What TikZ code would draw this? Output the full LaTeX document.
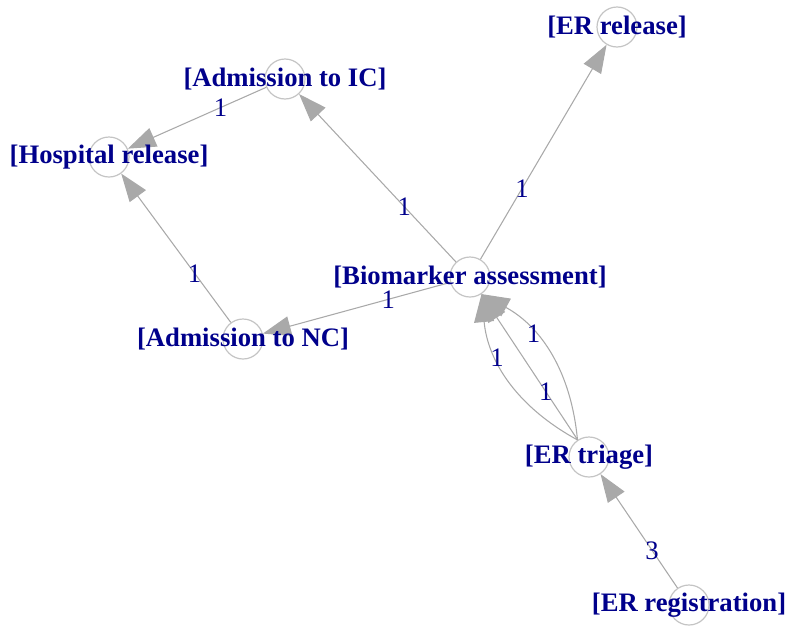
\documentclass[tikz,border=0pt]{standalone}
\usepackage{fontspec}
\setmainfont{Liberation Serif}
\usepackage{xcolor}
\usetikzlibrary{arrows.meta}
\definecolor{vlabel}{HTML}{00008B}
\definecolor{edgegray}{HTML}{A9A9A9}
\definecolor{ringgray}{HTML}{C4C4C4}

\begin{document}
\begin{tikzpicture}[x=0.75pt,y=-0.75pt,
    vtx/.style={shape=circle, minimum size=30pt, inner sep=0pt, draw=ringgray, line width=0.9pt},
    vlbl/.style={font=\fontsize{20}{24}\selectfont\bfseries, text=vlabel, inner sep=0pt},
    elbl/.style={font=\fontsize{20}{24}\selectfont, text=vlabel, inner sep=0pt, pos=0.33},
    link/.style={draw=edgegray, line width=0.8pt, -{Triangle[length=21pt,width=15pt]}}]
    \useasboundingbox (0,0) rectangle (787,625);

    % vertices
    \node[vtx] (rel) at (617,27) {};
    \node[vtx] (ic) at (285,79) {};
    \node[vtx] (hr) at (109,157) {};
    \node[vtx] (ba) at (470,277) {};
    \node[vtx] (nc) at (243,339) {};
    \node[vtx] (tri) at (589,457) {};
    \node[vtx] (reg) at (689,605) {};

    % edges
    \draw[link] (reg) -- node[elbl] {3} (tri);
    \draw[link] (tri) -- node[elbl] {1} (ba);
    \draw[link] (tri.124) to[bend left=28] node[elbl,pos=0.65] {1} (ba.304);
    \draw[link] (tri.124) to[bend right=28] node[elbl,pos=0.65] {1} (ba.304);
    \draw[link] (ba) -- node[elbl] {1} (rel);
    \draw[link] (ba) -- node[elbl] {1} (ic);
    \draw[link] (ba) -- node[elbl] {1} (nc);
    \draw[link] (ic) -- node[elbl] {1} (hr);
    \draw[link] (nc) -- node[elbl] {1} (hr);

    % labels
    \node[vlbl] (rel-t) at (rel) {[ER release]};
    \node[vlbl] (ic-t) at (ic) {[Admission to IC]};
    \node[vlbl] (hr-t) at (hr) {[Hospital release]};
    \node[vlbl] (ba-t) at (ba) {[Biomarker assessment]};
    \node[vlbl] (nc-t) at (nc) {[Admission to NC]};
    \node[vlbl] (tri-t) at (tri) {[ER triage]};
    \node[vlbl] (reg-t) at (reg) {[ER registration]};
\end{tikzpicture}
\end{document}
